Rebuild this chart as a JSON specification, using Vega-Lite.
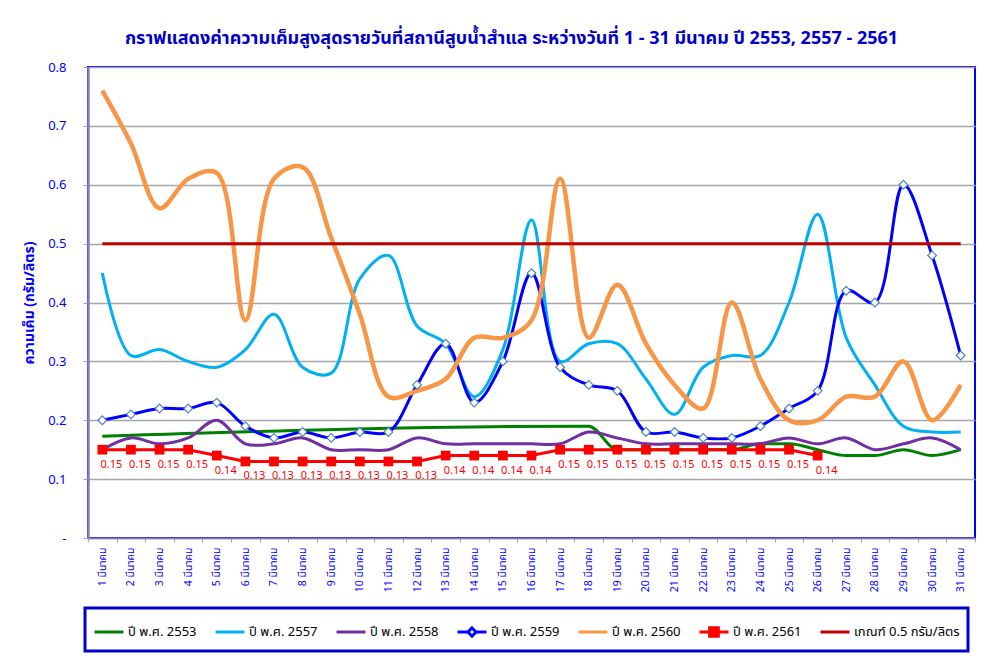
{
  "$schema": "https://vega.github.io/schema/vega-lite/v6.json",
  "autosize": "none",
  "padding": {"left": 88, "top": 67, "right": 23, "bottom": 121},
  "width": 887,
  "height": 471,
  "background": "white",
  "config": {
    "font": "Tahoma, 'Noto Sans Thai', 'Noto Sans', 'DejaVu Sans', sans-serif",
    "view": {"stroke": "#0000FF", "strokeWidth": 2}
  },
  "title": {
    "text": "กราฟแสดงค่าความเค็มสูงสุดรายวันที่สถานีสูบน้ำสำแล ระหว่างวันที่ 1 - 31 มีนาคม  ปี 2553, 2557 - 2561",
    "fontSize": 18,
    "fontWeight": "bold",
    "color": "#0000CC",
    "anchor": "middle",
    "offset": 13,
    "dx": -20
  },
  "data": {
    "values": [
      {"day": 1, "series": "ปี พ.ศ. 2553", "value": 0.173},
      {"day": 18, "series": "ปี พ.ศ. 2553", "value": 0.19},
      {"day": 19, "series": "ปี พ.ศ. 2553", "value": 0.15},
      {"day": 20, "series": "ปี พ.ศ. 2553", "value": 0.15},
      {"day": 21, "series": "ปี พ.ศ. 2553", "value": 0.15},
      {"day": 22, "series": "ปี พ.ศ. 2553", "value": 0.15},
      {"day": 23, "series": "ปี พ.ศ. 2553", "value": 0.15},
      {"day": 24, "series": "ปี พ.ศ. 2553", "value": 0.16},
      {"day": 25, "series": "ปี พ.ศ. 2553", "value": 0.16},
      {"day": 26, "series": "ปี พ.ศ. 2553", "value": 0.15},
      {"day": 27, "series": "ปี พ.ศ. 2553", "value": 0.14},
      {"day": 28, "series": "ปี พ.ศ. 2553", "value": 0.14},
      {"day": 29, "series": "ปี พ.ศ. 2553", "value": 0.15},
      {"day": 30, "series": "ปี พ.ศ. 2553", "value": 0.14},
      {"day": 31, "series": "ปี พ.ศ. 2553", "value": 0.15},

      {"day": 1, "series": "ปี พ.ศ. 2557", "value": 0.45},
      {"day": 2, "series": "ปี พ.ศ. 2557", "value": 0.31},
      {"day": 3, "series": "ปี พ.ศ. 2557", "value": 0.32},
      {"day": 4, "series": "ปี พ.ศ. 2557", "value": 0.30},
      {"day": 5, "series": "ปี พ.ศ. 2557", "value": 0.29},
      {"day": 6, "series": "ปี พ.ศ. 2557", "value": 0.32},
      {"day": 7, "series": "ปี พ.ศ. 2557", "value": 0.38},
      {"day": 8, "series": "ปี พ.ศ. 2557", "value": 0.29},
      {"day": 9, "series": "ปี พ.ศ. 2557", "value": 0.28},
      {"day": 10, "series": "ปี พ.ศ. 2557", "value": 0.44},
      {"day": 11, "series": "ปี พ.ศ. 2557", "value": 0.48},
      {"day": 12, "series": "ปี พ.ศ. 2557", "value": 0.36},
      {"day": 13, "series": "ปี พ.ศ. 2557", "value": 0.33},
      {"day": 14, "series": "ปี พ.ศ. 2557", "value": 0.24},
      {"day": 15, "series": "ปี พ.ศ. 2557", "value": 0.32},
      {"day": 16, "series": "ปี พ.ศ. 2557", "value": 0.54},
      {"day": 17, "series": "ปี พ.ศ. 2557", "value": 0.30},
      {"day": 18, "series": "ปี พ.ศ. 2557", "value": 0.33},
      {"day": 19, "series": "ปี พ.ศ. 2557", "value": 0.33},
      {"day": 20, "series": "ปี พ.ศ. 2557", "value": 0.27},
      {"day": 21, "series": "ปี พ.ศ. 2557", "value": 0.21},
      {"day": 22, "series": "ปี พ.ศ. 2557", "value": 0.29},
      {"day": 23, "series": "ปี พ.ศ. 2557", "value": 0.31},
      {"day": 24, "series": "ปี พ.ศ. 2557", "value": 0.31},
      {"day": 25, "series": "ปี พ.ศ. 2557", "value": 0.40},
      {"day": 26, "series": "ปี พ.ศ. 2557", "value": 0.55},
      {"day": 27, "series": "ปี พ.ศ. 2557", "value": 0.34},
      {"day": 28, "series": "ปี พ.ศ. 2557", "value": 0.26},
      {"day": 29, "series": "ปี พ.ศ. 2557", "value": 0.19},
      {"day": 30, "series": "ปี พ.ศ. 2557", "value": 0.18},
      {"day": 31, "series": "ปี พ.ศ. 2557", "value": 0.18},

      {"day": 1, "series": "ปี พ.ศ. 2558", "value": 0.15},
      {"day": 2, "series": "ปี พ.ศ. 2558", "value": 0.17},
      {"day": 3, "series": "ปี พ.ศ. 2558", "value": 0.16},
      {"day": 4, "series": "ปี พ.ศ. 2558", "value": 0.17},
      {"day": 5, "series": "ปี พ.ศ. 2558", "value": 0.20},
      {"day": 6, "series": "ปี พ.ศ. 2558", "value": 0.16},
      {"day": 7, "series": "ปี พ.ศ. 2558", "value": 0.16},
      {"day": 8, "series": "ปี พ.ศ. 2558", "value": 0.17},
      {"day": 9, "series": "ปี พ.ศ. 2558", "value": 0.15},
      {"day": 10, "series": "ปี พ.ศ. 2558", "value": 0.15},
      {"day": 11, "series": "ปี พ.ศ. 2558", "value": 0.15},
      {"day": 12, "series": "ปี พ.ศ. 2558", "value": 0.17},
      {"day": 13, "series": "ปี พ.ศ. 2558", "value": 0.16},
      {"day": 14, "series": "ปี พ.ศ. 2558", "value": 0.16},
      {"day": 15, "series": "ปี พ.ศ. 2558", "value": 0.16},
      {"day": 16, "series": "ปี พ.ศ. 2558", "value": 0.16},
      {"day": 17, "series": "ปี พ.ศ. 2558", "value": 0.16},
      {"day": 18, "series": "ปี พ.ศ. 2558", "value": 0.18},
      {"day": 19, "series": "ปี พ.ศ. 2558", "value": 0.17},
      {"day": 20, "series": "ปี พ.ศ. 2558", "value": 0.16},
      {"day": 21, "series": "ปี พ.ศ. 2558", "value": 0.16},
      {"day": 22, "series": "ปี พ.ศ. 2558", "value": 0.16},
      {"day": 23, "series": "ปี พ.ศ. 2558", "value": 0.16},
      {"day": 24, "series": "ปี พ.ศ. 2558", "value": 0.16},
      {"day": 25, "series": "ปี พ.ศ. 2558", "value": 0.17},
      {"day": 26, "series": "ปี พ.ศ. 2558", "value": 0.16},
      {"day": 27, "series": "ปี พ.ศ. 2558", "value": 0.17},
      {"day": 28, "series": "ปี พ.ศ. 2558", "value": 0.15},
      {"day": 29, "series": "ปี พ.ศ. 2558", "value": 0.16},
      {"day": 30, "series": "ปี พ.ศ. 2558", "value": 0.17},
      {"day": 31, "series": "ปี พ.ศ. 2558", "value": 0.15},

      {"day": 1, "series": "ปี พ.ศ. 2559", "value": 0.20},
      {"day": 2, "series": "ปี พ.ศ. 2559", "value": 0.21},
      {"day": 3, "series": "ปี พ.ศ. 2559", "value": 0.22},
      {"day": 4, "series": "ปี พ.ศ. 2559", "value": 0.22},
      {"day": 5, "series": "ปี พ.ศ. 2559", "value": 0.23},
      {"day": 6, "series": "ปี พ.ศ. 2559", "value": 0.19},
      {"day": 7, "series": "ปี พ.ศ. 2559", "value": 0.17},
      {"day": 8, "series": "ปี พ.ศ. 2559", "value": 0.18},
      {"day": 9, "series": "ปี พ.ศ. 2559", "value": 0.17},
      {"day": 10, "series": "ปี พ.ศ. 2559", "value": 0.18},
      {"day": 11, "series": "ปี พ.ศ. 2559", "value": 0.18},
      {"day": 12, "series": "ปี พ.ศ. 2559", "value": 0.26},
      {"day": 13, "series": "ปี พ.ศ. 2559", "value": 0.33},
      {"day": 14, "series": "ปี พ.ศ. 2559", "value": 0.23},
      {"day": 15, "series": "ปี พ.ศ. 2559", "value": 0.30},
      {"day": 16, "series": "ปี พ.ศ. 2559", "value": 0.45},
      {"day": 17, "series": "ปี พ.ศ. 2559", "value": 0.29},
      {"day": 18, "series": "ปี พ.ศ. 2559", "value": 0.26},
      {"day": 19, "series": "ปี พ.ศ. 2559", "value": 0.25},
      {"day": 20, "series": "ปี พ.ศ. 2559", "value": 0.18},
      {"day": 21, "series": "ปี พ.ศ. 2559", "value": 0.18},
      {"day": 22, "series": "ปี พ.ศ. 2559", "value": 0.17},
      {"day": 23, "series": "ปี พ.ศ. 2559", "value": 0.17},
      {"day": 24, "series": "ปี พ.ศ. 2559", "value": 0.19},
      {"day": 25, "series": "ปี พ.ศ. 2559", "value": 0.22},
      {"day": 26, "series": "ปี พ.ศ. 2559", "value": 0.25},
      {"day": 27, "series": "ปี พ.ศ. 2559", "value": 0.42},
      {"day": 28, "series": "ปี พ.ศ. 2559", "value": 0.40},
      {"day": 29, "series": "ปี พ.ศ. 2559", "value": 0.60},
      {"day": 30, "series": "ปี พ.ศ. 2559", "value": 0.48},
      {"day": 31, "series": "ปี พ.ศ. 2559", "value": 0.31},

      {"day": 1, "series": "ปี พ.ศ. 2560", "value": 0.76},
      {"day": 2, "series": "ปี พ.ศ. 2560", "value": 0.67},
      {"day": 3, "series": "ปี พ.ศ. 2560", "value": 0.56},
      {"day": 4, "series": "ปี พ.ศ. 2560", "value": 0.61},
      {"day": 5, "series": "ปี พ.ศ. 2560", "value": 0.62},
      {"day": 6, "series": "ปี พ.ศ. 2560", "value": 0.37},
      {"day": 7, "series": "ปี พ.ศ. 2560", "value": 0.61},
      {"day": 8, "series": "ปี พ.ศ. 2560", "value": 0.63},
      {"day": 9, "series": "ปี พ.ศ. 2560", "value": 0.51},
      {"day": 10, "series": "ปี พ.ศ. 2560", "value": 0.38},
      {"day": 11, "series": "ปี พ.ศ. 2560", "value": 0.24},
      {"day": 12, "series": "ปี พ.ศ. 2560", "value": 0.25},
      {"day": 13, "series": "ปี พ.ศ. 2560", "value": 0.27},
      {"day": 14, "series": "ปี พ.ศ. 2560", "value": 0.34},
      {"day": 15, "series": "ปี พ.ศ. 2560", "value": 0.34},
      {"day": 16, "series": "ปี พ.ศ. 2560", "value": 0.37},
      {"day": 17, "series": "ปี พ.ศ. 2560", "value": 0.61},
      {"day": 18, "series": "ปี พ.ศ. 2560", "value": 0.34},
      {"day": 19, "series": "ปี พ.ศ. 2560", "value": 0.43},
      {"day": 20, "series": "ปี พ.ศ. 2560", "value": 0.33},
      {"day": 21, "series": "ปี พ.ศ. 2560", "value": 0.26},
      {"day": 22, "series": "ปี พ.ศ. 2560", "value": 0.22},
      {"day": 23, "series": "ปี พ.ศ. 2560", "value": 0.40},
      {"day": 24, "series": "ปี พ.ศ. 2560", "value": 0.27},
      {"day": 25, "series": "ปี พ.ศ. 2560", "value": 0.20},
      {"day": 26, "series": "ปี พ.ศ. 2560", "value": 0.20},
      {"day": 27, "series": "ปี พ.ศ. 2560", "value": 0.24},
      {"day": 28, "series": "ปี พ.ศ. 2560", "value": 0.24},
      {"day": 29, "series": "ปี พ.ศ. 2560", "value": 0.30},
      {"day": 30, "series": "ปี พ.ศ. 2560", "value": 0.20},
      {"day": 31, "series": "ปี พ.ศ. 2560", "value": 0.26},

      {"day": 1, "series": "ปี พ.ศ. 2561", "value": 0.15},
      {"day": 2, "series": "ปี พ.ศ. 2561", "value": 0.15},
      {"day": 3, "series": "ปี พ.ศ. 2561", "value": 0.15},
      {"day": 4, "series": "ปี พ.ศ. 2561", "value": 0.15},
      {"day": 5, "series": "ปี พ.ศ. 2561", "value": 0.14},
      {"day": 6, "series": "ปี พ.ศ. 2561", "value": 0.13},
      {"day": 7, "series": "ปี พ.ศ. 2561", "value": 0.13},
      {"day": 8, "series": "ปี พ.ศ. 2561", "value": 0.13},
      {"day": 9, "series": "ปี พ.ศ. 2561", "value": 0.13},
      {"day": 10, "series": "ปี พ.ศ. 2561", "value": 0.13},
      {"day": 11, "series": "ปี พ.ศ. 2561", "value": 0.13},
      {"day": 12, "series": "ปี พ.ศ. 2561", "value": 0.13},
      {"day": 13, "series": "ปี พ.ศ. 2561", "value": 0.14},
      {"day": 14, "series": "ปี พ.ศ. 2561", "value": 0.14},
      {"day": 15, "series": "ปี พ.ศ. 2561", "value": 0.14},
      {"day": 16, "series": "ปี พ.ศ. 2561", "value": 0.14},
      {"day": 17, "series": "ปี พ.ศ. 2561", "value": 0.15},
      {"day": 18, "series": "ปี พ.ศ. 2561", "value": 0.15},
      {"day": 19, "series": "ปี พ.ศ. 2561", "value": 0.15},
      {"day": 20, "series": "ปี พ.ศ. 2561", "value": 0.15},
      {"day": 21, "series": "ปี พ.ศ. 2561", "value": 0.15},
      {"day": 22, "series": "ปี พ.ศ. 2561", "value": 0.15},
      {"day": 23, "series": "ปี พ.ศ. 2561", "value": 0.15},
      {"day": 24, "series": "ปี พ.ศ. 2561", "value": 0.15},
      {"day": 25, "series": "ปี พ.ศ. 2561", "value": 0.15},
      {"day": 26, "series": "ปี พ.ศ. 2561", "value": 0.14},

      {"day": 1, "series": "เกณฑ์ 0.5 กรัม/ลิตร", "value": 0.5},
      {"day": 31, "series": "เกณฑ์ 0.5 กรัม/ลิตร", "value": 0.5}
    ]
  },
  "encoding": {
    "x": {
      "field": "day",
      "type": "ordinal",
      "scale": {"type": "band", "paddingInner": 0, "paddingOuter": 0},
      "axis": {
        "title": null,
        "labelExpr": "isValid(datum.value) ? datum.value + ' มีนาคม' : ''",
        "labelAngle": -90,
        "labelFontSize": 10.5,
        "labelColor": "#0000FF",
        "labelPadding": 5,
        "tickBand": "extent",
        "tickSize": 4,
        "tickColor": "#A6A6A6",
        "domainColor": "#8080B0",
        "domainWidth": 1.5,
        "grid": false
      }
    },
    "y": {
      "field": "value",
      "type": "quantitative",
      "scale": {"domain": [0, 0.8], "nice": false},
      "axis": {
        "values": [0, 0.1, 0.2, 0.3, 0.4, 0.5, 0.6, 0.7, 0.8],
        "labelExpr": "datum.value == 0 ? '-' : format(datum.value, '.1f')",
        "labelFontSize": 13,
        "labelColor": "#0000FF",
        "labelPadding": 17,
        "tickSize": 5,
        "tickColor": "#A6A6A6",
        "domainColor": "#8080C0",
        "domainWidth": 2.5,
        "grid": true,
        "gridColor": "#A6A6A6",
        "gridWidth": 1.3,
        "title": "ความเค็ม (กรัม/ลิตร)",
        "titleFontSize": 14,
        "titleFontWeight": "bold",
        "titleColor": "#0000FF",
        "titlePadding": 11
      }
    }
  },
  "layer": [
    {
      "transform": [{"filter": "datum.series === 'ปี พ.ศ. 2553'"}],
      "mark": {"type": "line", "interpolate": "monotone", "strokeWidth": 3},
      "encoding": {
        "color": {
          "field": "series",
          "type": "nominal",
          "scale": {
            "domain": ["ปี พ.ศ. 2553", "ปี พ.ศ. 2557", "ปี พ.ศ. 2558", "ปี พ.ศ. 2559", "ปี พ.ศ. 2560", "ปี พ.ศ. 2561", "เกณฑ์ 0.5 กรัม/ลิตร"],
            "range": ["#008000", "#00B0F0", "#7030A0", "#0000FF", "#F79646", "#FF0000", "#C00000"]
          },
          "legend": {
            "orient": "none",
            "legendX": -3,
            "legendY": 541,
            "direction": "horizontal",
            "columns": 7,
            "gridAlign": "none",
            "title": null,
            "symbolType": "stroke",
            "symbolSize": 841,
            "symbolStrokeWidth": 3,
            "labelFontSize": 13,
            "labelColor": "#000000",
            "labelOffset": 3,
            "columnPadding": 12,
            "padding": 8,
            "strokeColor": "#0000CC",
            "fillColor": "#FFFFFF",
            "encode": {
              "legend": {"update": {"strokeWidth": {"value": 3}}},
              "symbols": {
                "update": {
                  "shape": {"signal": "datum.index === 3 ? 'M-1,0H-0.28M0.28,0H1M0,-0.28L0.28,0L0,0.28L-0.28,0Z' : datum.index === 5 ? 'M-1,0H1M-0.3,-0.3H0.3V0.3H-0.3Z' : 'M-1,0H1'"},
                  "fill": {"signal": "datum.index === 5 ? '#FF0000' : datum.index === 3 ? '#FFFFFF' : 'transparent'"}
                }
              }
            }
          }
        }
      }
    },
    {
      "transform": [{"filter": "datum.series === 'ปี พ.ศ. 2557'"}],
      "mark": {"type": "line", "interpolate": "catmull-rom", "strokeWidth": 3},
      "encoding": {"color": {"field": "series", "type": "nominal"}}
    },
    {
      "transform": [{"filter": "datum.series === 'ปี พ.ศ. 2558'"}],
      "mark": {"type": "line", "interpolate": "catmull-rom", "strokeWidth": 3},
      "encoding": {"color": {"field": "series", "type": "nominal"}}
    },
    {
      "transform": [{"filter": "datum.series === 'ปี พ.ศ. 2559'"}],
      "mark": {"type": "line", "interpolate": "catmull-rom", "strokeWidth": 3},
      "encoding": {"color": {"field": "series", "type": "nominal"}}
    },
    {
      "transform": [{"filter": "datum.series === 'ปี พ.ศ. 2560'"}],
      "mark": {"type": "line", "interpolate": "catmull-rom", "strokeWidth": 4.5},
      "encoding": {"color": {"field": "series", "type": "nominal"}}
    },
    {
      "transform": [{"filter": "datum.series === 'ปี พ.ศ. 2561'"}],
      "mark": {"type": "line", "interpolate": "linear", "strokeWidth": 3},
      "encoding": {"color": {"field": "series", "type": "nominal"}}
    },
    {
      "transform": [{"filter": "datum.series === 'เกณฑ์ 0.5 กรัม/ลิตร'"}],
      "mark": {"type": "line", "interpolate": "linear", "strokeWidth": 3},
      "encoding": {"color": {"field": "series", "type": "nominal"}}
    },
    {
      "transform": [{"filter": "datum.series === 'ปี พ.ศ. 2559'"}],
      "mark": {"type": "point", "shape": "diamond", "filled": true, "fill": "#FFFFFF", "stroke": "#4F81BD", "strokeWidth": 1.2, "size": 75, "opacity": 1}
    },
    {
      "transform": [{"filter": "datum.series === 'ปี พ.ศ. 2561'"}],
      "mark": {"type": "square", "color": "#FF0000", "size": 95, "opacity": 1}
    },
    {
      "transform": [{"filter": "datum.series === 'ปี พ.ศ. 2561'"}],
      "mark": {"type": "text", "color": "#FF0000", "fontSize": 11, "dx": 9, "dy": 15},
      "encoding": {"text": {"field": "value", "type": "quantitative", "format": ".2f"}}
    }
  ]
}
